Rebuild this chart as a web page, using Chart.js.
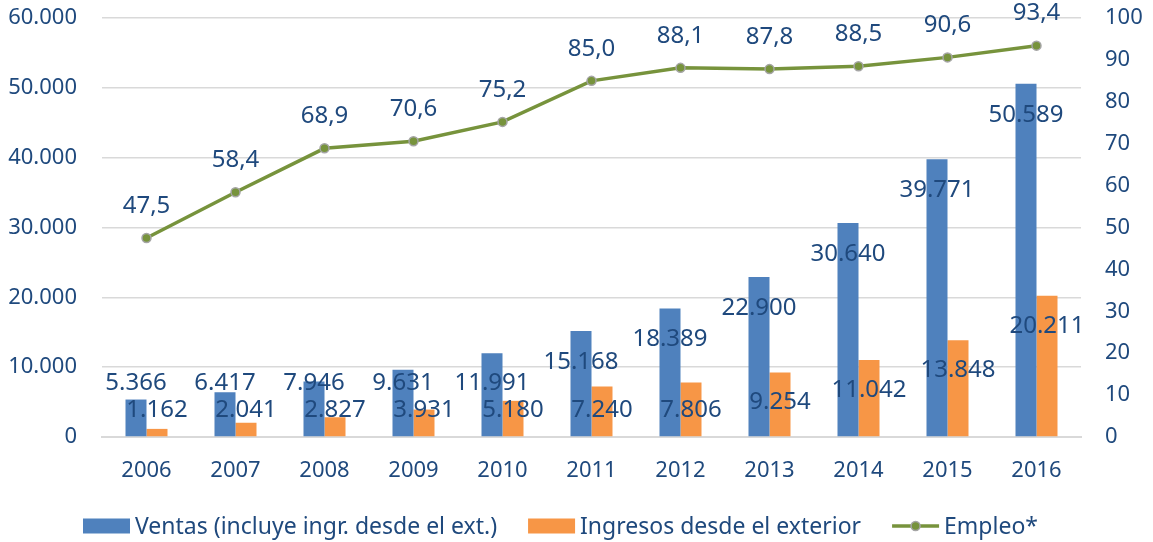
<!DOCTYPE html>
<html>
<head>
<meta charset="utf-8">
<script src="https://cdn.jsdelivr.net/npm/chart.js@4"></script>
<style>
  html, body { margin: 0; padding: 0; background: #ffffff; }
  #wrap { width: 1153px; height: 542px; }
</style>
</head>
<body>
<div id="wrap"><canvas id="c" width="1153" height="542"></canvas></div>
<script>
const years = ['2006','2007','2008','2009','2010','2011','2012','2013','2014','2015','2016'];
const ventas = [5366, 6417, 7946, 9631, 11991, 15168, 18389, 22900, 30640, 39771, 50589];
const ingresos = [1162, 2041, 2827, 3931, 5180, 7240, 7806, 9254, 11042, 13848, 20211];
const empleo = [47.5, 58.4, 68.9, 70.6, 75.2, 85.0, 88.1, 87.8, 88.5, 90.6, 93.4];
const seriesNames = ['Ventas (incluye ingr. desde el ext.)', 'Ingresos desde el exterior', 'Empleo*'];

const TEXT = '#1F497D';
const BLUE = '#4F81BD';
const ORANGE = '#F79646';
const GREEN = '#77933C';
const MARKER_EDGE = '#A5A5A5';
const GRID = '#D9D9D9';

function fmtInt(v) {
  return String(Math.round(v)).replace(/\B(?=(\d{3})+(?!\d))/g, '.');
}
function fmtDec(v) {
  return v.toFixed(1).replace('.', ',');
}

Chart.defaults.font.family = '"Noto Sans", sans-serif';
Chart.defaults.color = TEXT;

const valueLabels = {
  id: 'valueLabels',
  afterDatasetsDraw(chart) {
    const ctx = chart.ctx;
    const zeroY = chart.scales.y.getPixelForValue(0);
    ctx.save();
    ctx.font = '24px "Noto Sans", sans-serif';
    ctx.fillStyle = TEXT;
    ctx.textAlign = 'center';
    ctx.textBaseline = 'middle';
    chart.getDatasetMeta(0).data.forEach((bar, i) => {
      ctx.fillText(fmtInt(ventas[i]), bar.x, Math.min(bar.y + 31, zeroY - 54));
    });
    chart.getDatasetMeta(1).data.forEach((bar, i) => {
      ctx.fillText(fmtInt(ingresos[i]), bar.x, Math.min(bar.y + 30, zeroY - 27));
    });
    chart.getDatasetMeta(2).data.forEach((pt, i) => {
      ctx.fillText(fmtDec(empleo[i]), pt.x, pt.y - 32);
    });
    ctx.restore();
  }
};

// legend drawn in the reserved bottom band
const bottomLegend = {
  id: 'bottomLegend',
  afterDraw(chart) {
    const ctx = chart.ctx;
    const items = [
      { text: seriesNames[0], color: BLUE, kind: 'box' },
      { text: seriesNames[1], color: ORANGE, kind: 'box' },
      { text: seriesNames[2], color: GREEN, kind: 'line' }
    ];
    const boxW = 47, boxH = 15, gapText = 5, gapItem = 31;
    const cy = 526;
    ctx.save();
    ctx.font = '23px "Noto Sans", sans-serif';
    ctx.textBaseline = 'middle';
    ctx.textAlign = 'left';
    let x = 83;
    items.forEach(it => {
      if (it.kind === 'box') {
        ctx.fillStyle = it.color;
        ctx.fillRect(x, cy - boxH / 2, boxW, boxH);
      } else {
        ctx.strokeStyle = it.color; ctx.lineWidth = 3.5;
        ctx.beginPath(); ctx.moveTo(x, cy); ctx.lineTo(x + boxW, cy); ctx.stroke();
        ctx.beginPath(); ctx.arc(x + boxW / 2, cy, 4.5, 0, Math.PI * 2);
        ctx.fillStyle = it.color; ctx.fill();
        ctx.strokeStyle = MARKER_EDGE; ctx.lineWidth = 1.5; ctx.stroke();
      }
      ctx.fillStyle = TEXT;
      ctx.fillText(it.text, x + boxW + gapText, cy + 1);
      x += boxW + gapText + ctx.measureText(it.text).width + gapItem;
    });
    ctx.restore();
  }
};

new Chart(document.getElementById('c'), {
  type: 'bar',
  data: {
    labels: years,
    datasets: [
      { type: 'bar', label: seriesNames[0], data: ventas, backgroundColor: BLUE, yAxisID: 'y', order: 2,
        categoryPercentage: 0.472, barPercentage: 1.0 },
      { type: 'bar', label: seriesNames[1], data: ingresos, backgroundColor: ORANGE, yAxisID: 'y', order: 2,
        categoryPercentage: 0.472, barPercentage: 1.0 },
      { type: 'line', label: seriesNames[2], data: empleo, yAxisID: 'y1', order: 1,
        borderColor: GREEN, borderWidth: 3.5, tension: 0,
        pointRadius: 4.5, pointBackgroundColor: GREEN, pointBorderColor: MARKER_EDGE, pointBorderWidth: 1.5 }
    ]
  },
  options: {
    responsive: false,
    animation: false,
    devicePixelRatio: 1,
    layout: { padding: { left: 0, right: 0, top: 0, bottom: 55 } },
    plugins: {
      tooltip: { enabled: false },
      legend: { display: false }
    },
    scales: {
      x: {
        offset: true,
        grid: { display: false, drawTicks: false },
        border: { display: true, color: GRID, width: 2 },
        ticks: { color: TEXT, font: { size: 22 }, padding: 21, maxRotation: 0 },
        afterFit(scale) { scale.height = 50; }
      },
      y: {
        position: 'left',
        min: 0, max: 60000,
        grid: { color: GRID, lineWidth: 1.5, drawTicks: false },
        border: { display: false },
        ticks: { stepSize: 10000, color: TEXT, font: { size: 22 }, padding: 25,
          callback: (v) => fmtInt(v) },
        afterFit(scale) { scale.width = 102; scale.paddingTop = 18; scale.paddingBottom = 0; }
      },
      y1: {
        position: 'right',
        min: 0, max: 100,
        grid: { display: false, drawTicks: false },
        border: { display: false },
        ticks: { stepSize: 10, color: TEXT, font: { size: 22 }, padding: 24,
          callback: (v) => String(v) },
        afterFit(scale) { scale.width = 72; scale.paddingTop = 18; scale.paddingBottom = 0; }
      }
    }
  },
  plugins: [valueLabels, bottomLegend]
});
</script>
</body>
</html>
